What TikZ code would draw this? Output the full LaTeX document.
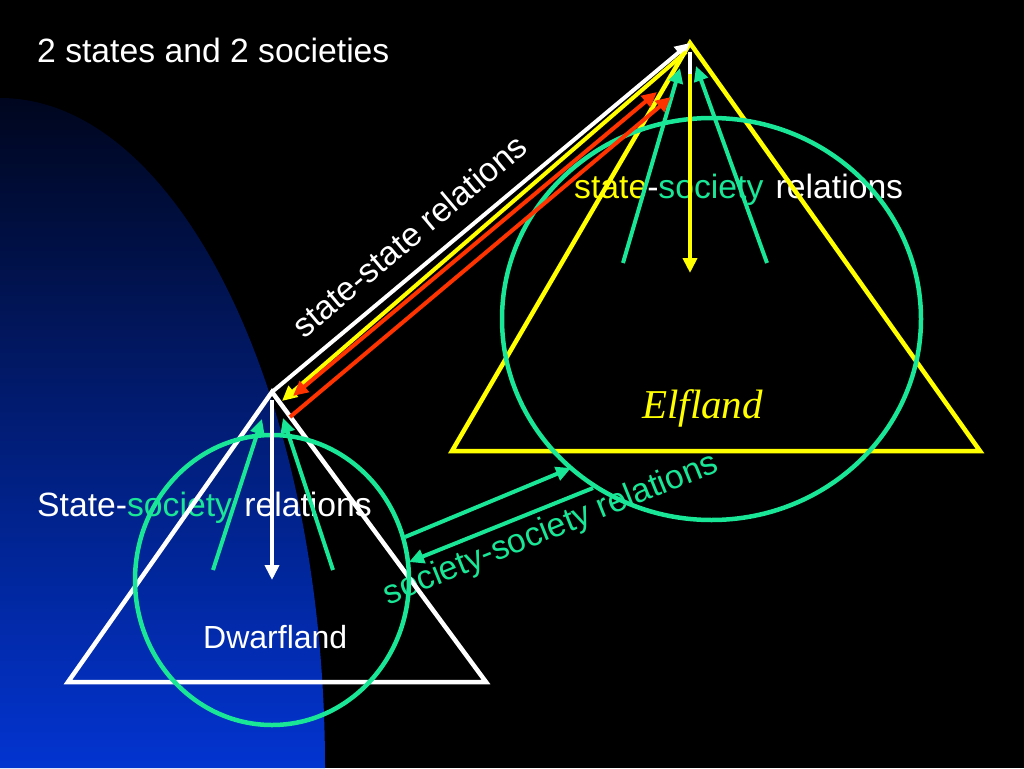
\documentclass[tikz,border=0pt]{standalone}
\usepackage{fontspec}
\setmainfont{Liberation Sans}
\newfontfamily\elffont{Liberation Serif}
\usetikzlibrary{arrows.meta}
\definecolor{sgreen}{RGB}{25,230,150}
\definecolor{syellow}{RGB}{255,255,0}
\definecolor{sred}{RGB}{255,51,0}
\definecolor{navytop}{RGB}{0,6,30}
\definecolor{bluebot}{RGB}{2,52,208}
\begin{document}
\begin{tikzpicture}[x=1pt,y=-1pt,
  tri/.style={line width=4.5pt, line join=miter},
  ring/.style={line width=4.5pt, draw=sgreen},
  arr/.style={line width=4pt, -{Triangle[length=15pt,width=14pt]}},
  dbl/.style={line width=4pt, {Triangle[length=15pt,width=14pt]}-{Triangle[length=15pt,width=14pt]}},
  lab/.style={inner sep=0pt, font=\fontsize{33.7}{40}\selectfont},
]
\useasboundingbox (0,0) rectangle (1024,768);
\fill[black] (0,0) rectangle (1024,768);
\shade[top color=navytop, bottom color=bluebot] (0,768) -- (0,98)
  arc[start angle=90, end angle=0, x radius=325pt, y radius=670pt] -- cycle;

% key points
\coordinate (dA) at (272,392);
\coordinate (dL) at (68,682);
\coordinate (dR) at (486,682);
\coordinate (eA) at (690,43);
\coordinate (eL) at (452,451);
\coordinate (eR) at (980,451);

% texts
\node[lab, white, anchor=base west] (title) at (37,63) {2 states and 2 societies};
\node[lab, white, anchor=base west] (dlab) at (37,516) {State-\textcolor{sgreen}{society}\hspace{3pt} relations};
\node[lab, anchor=base west] (elab) at (574,198) {\textcolor{syellow}{state}\textcolor{white}{-}\textcolor{sgreen}{society}\hspace{3pt} \textcolor{white}{relations}};
\node[lab, white, rotate=40] (ss) at (409,236) {state-state relations};
\node[lab, text=sgreen, rotate=22] (soc) at (551,530) {society-society relations};
\node[inner sep=0pt, text=syellow, font=\elffont\itshape\fontsize{41}{48}\selectfont, anchor=base west] (elf) at (642,418) {Elfland};
\node[inner sep=0pt, text=white, font=\fontsize{32}{38}\selectfont, anchor=base west] (dwarf) at (203,648) {Dwarfland};

% triangles and circles
\draw[tri, white] (dA) -- (dL) -- (dR) -- cycle;
\draw[tri, syellow] (eA) -- (eL) -- (eR) -- cycle;
\draw[ring] (272,580) ellipse [x radius=137pt, y radius=145pt];
\draw[ring] (711.5,319) ellipse [x radius=209.5pt, y radius=201pt];

% Elfland internal arrows
\coordinate (ey1) at (690,56);  \coordinate (ey2) at (690,273);
\coordinate (ew1) at (690,52);  \coordinate (ew2) at (690,74);
\coordinate (eg1) at (623,263); \coordinate (eg1t) at (680,68);
\coordinate (eg2) at (767,263); \coordinate (eg2t) at (696,66);
\draw[arr, syellow] (ey1) -- (ey2);
\draw[line width=4pt, white] (ew1) -- (ew2);
\draw[arr, sgreen] (eg1) -- (eg1t);
\draw[arr, sgreen] (eg2) -- (eg2t);

% Dwarfland internal arrows
\coordinate (dw1) at (272,400); \coordinate (dw2) at (272,580);
\coordinate (dg1) at (213,570); \coordinate (dg1t) at (262,419);
\coordinate (dg2) at (333,570); \coordinate (dg2t) at (283,418);
\draw[arr, white] (dw1) -- (dw2);
\draw[arr, sgreen] (dg1) -- (dg1t);
\draw[arr, sgreen] (dg2) -- (dg2t);

% state-state relations
\coordinate (ys) at (686,52);  \coordinate (ye) at (282,401);
\coordinate (r1a) at (293,396); \coordinate (r1b) at (657,92);
\coordinate (r2a) at (290,417); \coordinate (r2b) at (671,97);
\draw[arr, white] (dA) -- (eA);
\draw[arr, syellow] (ys) -- (ye);
\draw[dbl, sred] (r1a) -- (r1b);
\draw[arr, sred] (r2a) -- (r2b);

% society-society relations
\coordinate (s1a) at (405,537); \coordinate (s1b) at (571,468);
\coordinate (s2a) at (593,488); \coordinate (s2b) at (409,562);
\draw[arr, sgreen] (s1a) -- (s1b);
\draw[arr, sgreen] (s2a) -- (s2b);
\end{tikzpicture}
\end{document}
